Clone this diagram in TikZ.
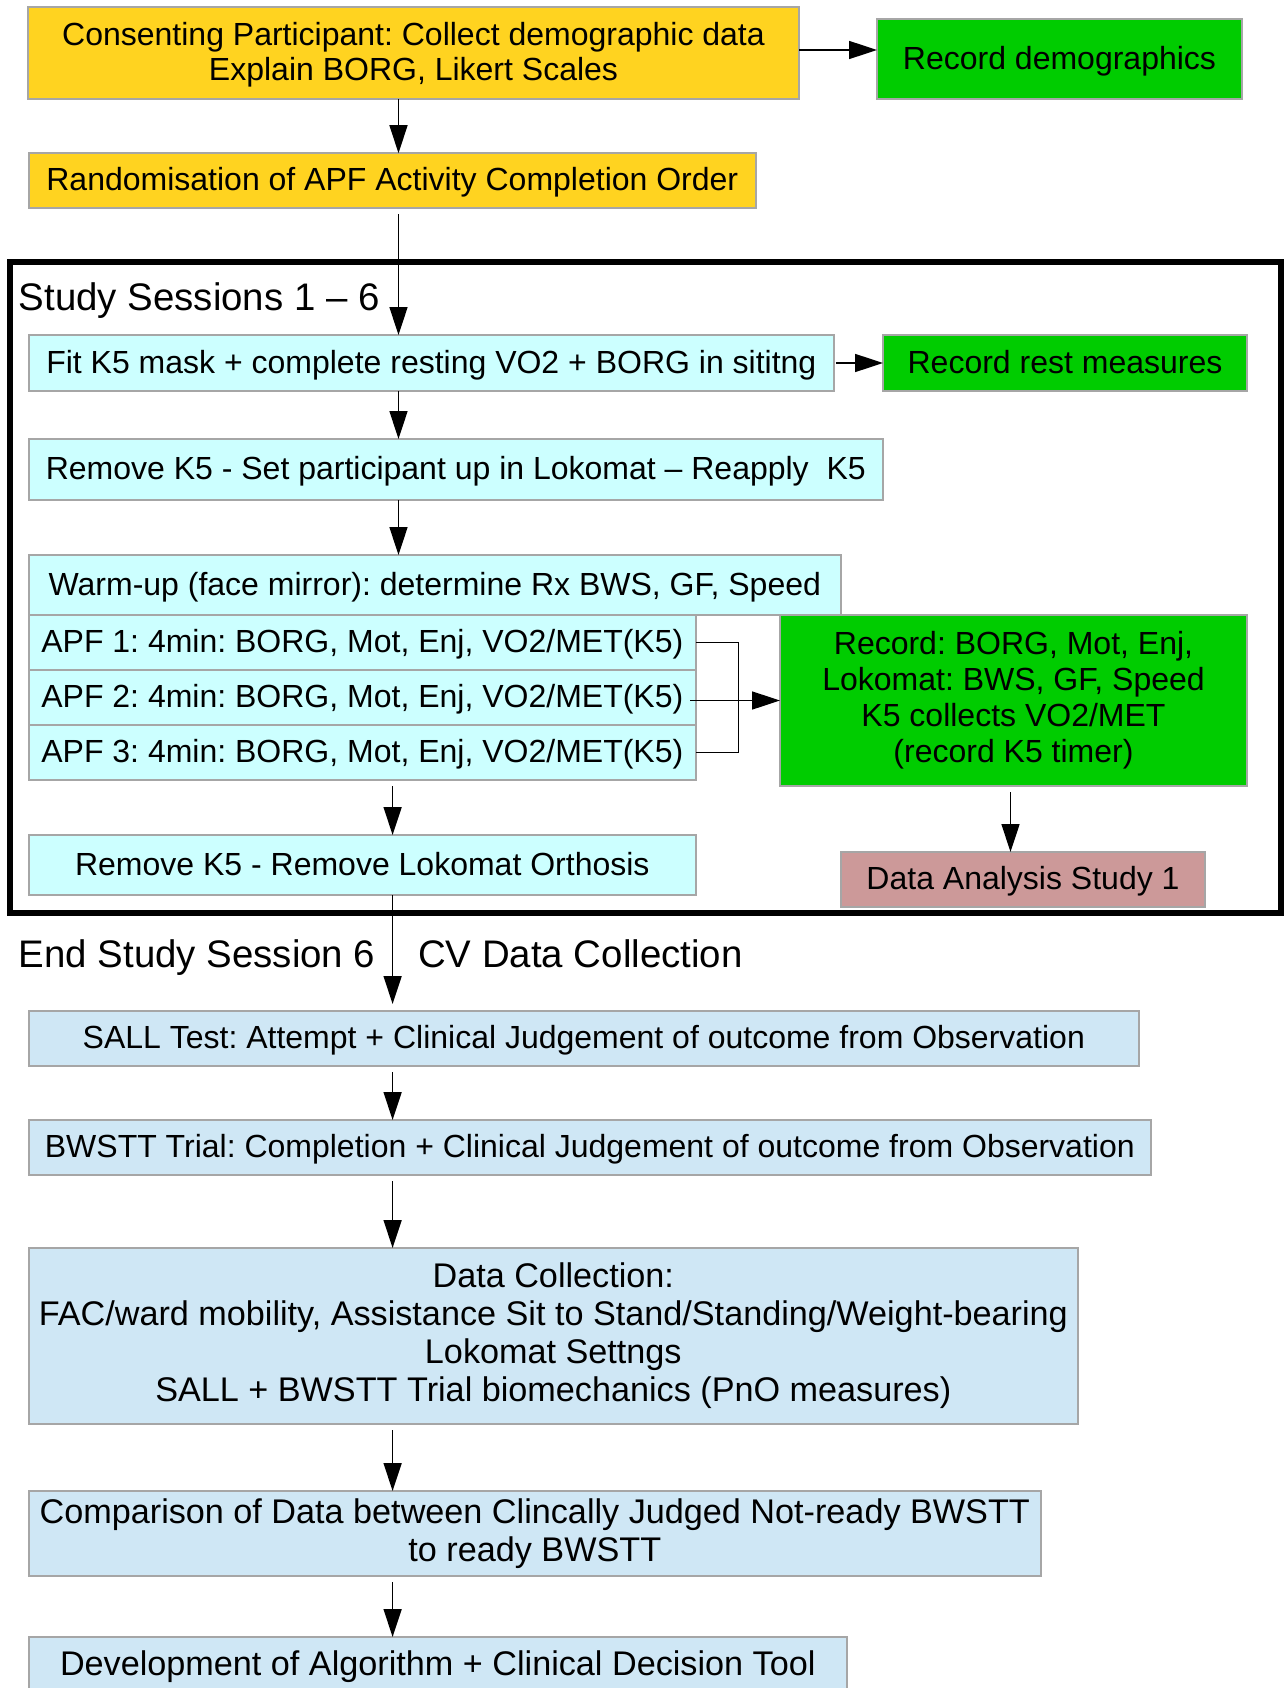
\documentclass[tikz,border=0pt]{standalone}
\usepackage{fontspec}
\setmainfont{Liberation Sans}
\usetikzlibrary{arrows.meta}
\definecolor{cyel}{HTML}{FFD320}
\definecolor{cgrn}{HTML}{00CC00}
\definecolor{ccyan}{HTML}{CCFFFF}
\definecolor{cblue}{HTML}{CFE7F5}
\definecolor{crose}{HTML}{CC9999}
\definecolor{cbord}{HTML}{A6A6A6}
\frenchspacing
\begin{document}
\frenchspacing
\begin{tikzpicture}[x=1pt,y=-1pt,
  box/.style={draw=cbord, line width=1.5pt, inner sep=0pt, outer sep=0pt, align=center, font=\fontsize{32}{36}\selectfont\frenchspacing},
  one/.style={box, text height=21pt, text depth=1pt},
  arr/.style={draw=black, line width=1.6pt, -{Triangle[length=28pt,width=18pt]}},
  lin/.style={draw=black, line width=1.6pt},
  head/.style={inner sep=0pt, anchor=base west, font=\fontsize{38.4}{44}\selectfont}]
\path[use as bounding box] (0,0) rectangle (1285,1688);
\clip (0,0) rectangle (1285,1688);

% frame of study sessions
\draw[line width=6pt] (9.7,262.5) rectangle (1281,912.5);

% helper coordinates
\coordinate (ax) at (398.5,0);
\coordinate (bx) at (392.6,0);
\coordinate (cx) at (1010.5,0);
\coordinate (jx) at (738.3,0);
\coordinate (ay) at (0,50);
\coordinate (a2s) at (690,700.5);

% boxes
\node[box, fill=cyel, minimum width=771pt, minimum height=92pt, font=\fontsize{32}{35}\selectfont\frenchspacing] (cons) at (413.5,53) {\rule{0pt}{27.5pt}Consenting Participant: Collect demographic data\\Explain BORG, Likert Scales};
\node[one, fill=cgrn, minimum width=365pt, minimum height=80pt, text height=23pt] (recdem) at (1059.5,59) {Record demographics};
\node[one, fill=cyel, minimum width=727pt, minimum height=55pt] (rand) at (392.3,180.7) {Randomisation of APF Activity Completion Order};
\node[one, fill=ccyan, minimum width=805pt, minimum height=56pt] (fit) at (431.3,363) {Fit K5 mask + complete resting VO2 + BORG in sititng};
\node[one, fill=cgrn, minimum width=364pt, minimum height=56pt] (rest) at (1065,363) {Record rest measures};
\node[one, fill=ccyan, minimum width=854pt, minimum height=61pt] (remk) at (455.8,469.5) {Remove K5 - Set participant up in Lokomat – Reapply\ \ K5};
\node[one, fill=ccyan, minimum width=812pt, minimum height=60pt] (warm) at (434.8,585) {Warm-up (face mirror): determine Rx BWS, GF, Speed};
\node[one, fill=ccyan, minimum width=667pt, minimum height=55pt] (apf1) at (362.3,642.5) {APF 1: 4min: BORG, Mot, Enj, VO2/MET(K5)};
\node[one, fill=ccyan, minimum width=667pt, minimum height=55pt] (apf2) at (362.3,697.5) {APF 2: 4min: BORG, Mot, Enj, VO2/MET(K5)};
\node[one, fill=ccyan, minimum width=667pt, minimum height=55pt] (apf3) at (362.3,752.5) {APF 3: 4min: BORG, Mot, Enj, VO2/MET(K5)};
\node[box, fill=cgrn, minimum width=467pt, minimum height=171pt] (rec) at (1013.5,700.5) {Record: BORG, Mot, Enj,\\Lokomat: BWS, GF, Speed\\K5 collects VO2/MET\\(record K5 timer)};
\node[one, fill=ccyan, minimum width=667pt, minimum height=60pt] (reml) at (362.3,865) {Remove K5 - Remove Lokomat Orthosis};
\node[one, fill=crose, minimum width=364pt, minimum height=55pt] (dana) at (1023,879.5) {Data Analysis Study 1};
\node[one, fill=cblue, minimum width=1110pt, minimum height=55pt] (sall) at (583.8,1038.5) {SALL Test: Attempt + Clinical Judgement of outcome from Observation};
\node[one, fill=cblue, minimum width=1122pt, minimum height=55pt] (bwstt) at (589.8,1147.5) {BWSTT Trial: Completion + Clinical Judgement of outcome from Observation};
\node[box, fill=cblue, minimum width=1049pt, minimum height=176pt, font=\fontsize{34.2}{38}\selectfont\frenchspacing] (dcol) at (553.3,1336) {Data Collection:\\FAC/ward mobility, Assistance Sit to Stand/Standing/Weight-bearing\\Lokomat Settngs\\SALL + BWSTT Trial biomechanics (PnO measures)};
\node[box, fill=cblue, minimum width=1012pt, minimum height=85pt, font=\fontsize{34.2}{38}\selectfont\frenchspacing] (comp) at (534.8,1533.5) {Comparison of Data between Clincally Judged Not-ready BWSTT\\to ready BWSTT};
\node[one, fill=cblue, minimum width=818pt, minimum height=56pt, font=\fontsize{34.2}{38}\selectfont\frenchspacing, text height=22.5pt] (dev) at (437.8,1665) {Development of Algorithm + Clinical Decision Tool};

% headings
\node[head] (t1) at (18.7,310) {Study Sessions 1 – 6};
\node[head] (t2) at (18.7,967) {End Study Session 6};
\node[head] (t3) at (418,967) {CV Data Collection};

% connectors
\draw[arr] (cons.south -| ax) -- (rand.north -| ax);
\draw[arr] (cons.east |- ay) -- (recdem.west |- ay);
\draw[arr] (rand.south -| ax) ++(0,6) -- (fit.north -| ax);
\draw[arr] ([xshift=2pt]fit.east) -- (rest.west);
\draw[arr] (fit.south -| ax) -- (remk.north -| ax);
\draw[arr] (remk.south -| ax) -- (warm.north -| ax);
\draw[lin] (apf1.east) -| (jx |- apf3.east) -- (apf3.east);
\draw[arr] (a2s) -- (rec.west);
\draw[arr] (apf3.south -| bx) ++(0,6) -- (reml.north -| bx);
\draw[arr] (rec.south -| cx) ++(0,6) -- (dana.north -| cx);
\draw[arr, shorten >=7pt] (reml.south -| bx) -- (sall.north -| bx);
\draw[arr] (sall.south -| bx) ++(0,6) -- (bwstt.north -| bx);
\draw[arr] (bwstt.south -| bx) ++(0,6) -- (dcol.north -| bx);
\draw[arr] (dcol.south -| bx) ++(0,6) -- (comp.north -| bx);
\draw[arr] (comp.south -| bx) ++(0,6) -- (dev.north -| bx);
\end{tikzpicture}
\end{document}
